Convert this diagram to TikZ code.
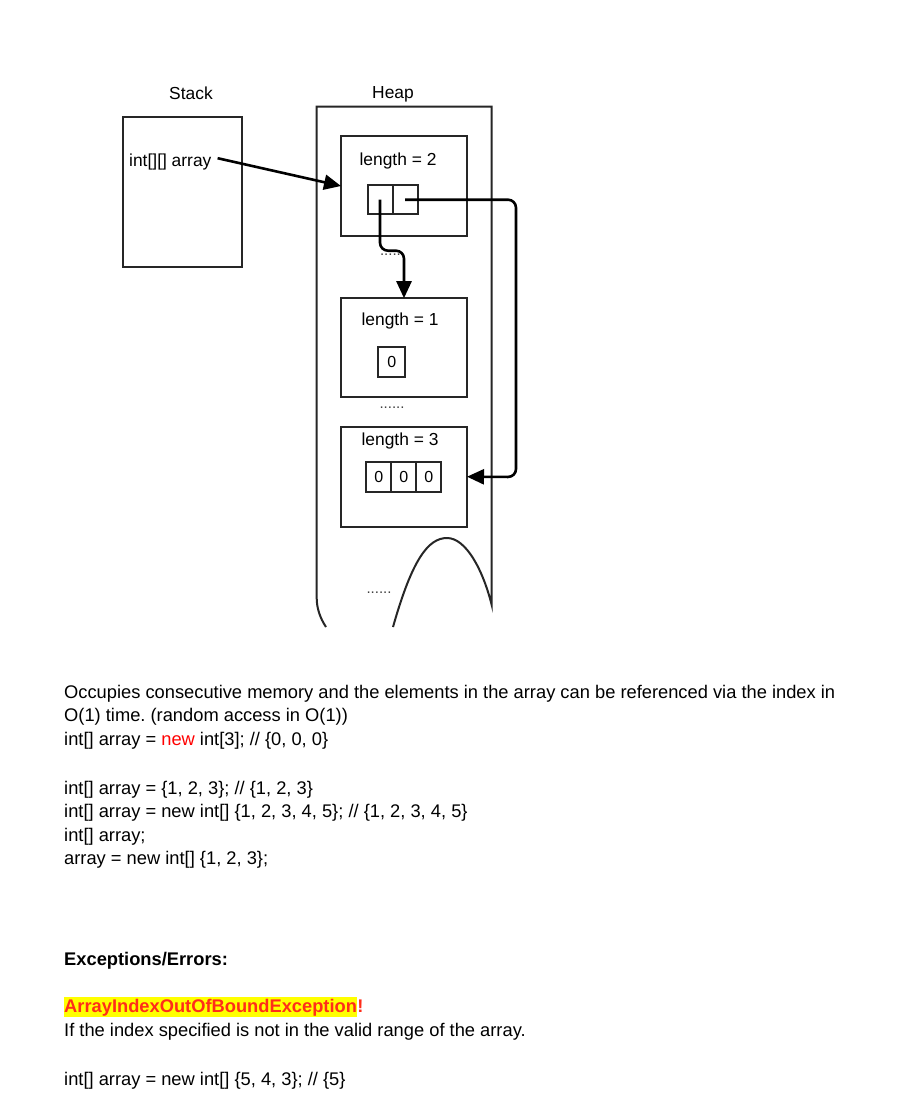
\documentclass[tikz,border=0pt]{standalone}
\usepackage{fontspec}
\setmainfont{Liberation Sans}
\usetikzlibrary{positioning,arrows.meta}
\definecolor{newred}{HTML}{FF0000}
\definecolor{excred}{HTML}{FF2D1A}
\definecolor{hlyellow}{HTML}{FFFF00}
\frenchspacing

\begin{document}
\begin{tikzpicture}[x=1pt,y=-1pt,
		memblock/.style={draw=black!85,line width=2pt,inner sep=0pt,outer sep=0pt},
		cellbox/.style={draw=black!85,line width=2pt,inner sep=0pt,outer sep=0pt,minimum width=25pt,minimum height=29.5pt,font=\fontsize{16}{18}\selectfont},
		lbl/.style={inner sep=0pt,font=\fontsize{17.4}{20}\selectfont},
		gapdots/.style={anchor=base,inner sep=0pt,text=black!75,font=\fontsize{15}{16}\selectfont},
		ptr/.style={line width=2.6pt,-{Triangle[length=17pt,width=15pt]},rounded corners=8pt},
		bodytext/.style={anchor=base west,inner sep=0pt,font=\fontsize{18.3}{22}\selectfont}]
	\fill[white] (0,0) rectangle (906,1113);
	\useasboundingbox (0,0) rectangle (906,1113);

	% stack side
	\node[lbl,anchor=base]									(stacklbl)	at (191,100)		{Stack};
	\node[memblock,minimum width=119pt,minimum height=150pt]	(stack)		at (182.2,191.7)	{};
	\node[lbl,anchor=base west]								(var)		at (129,166.7)		{int[][] array};

	% heap side
	\node[lbl,anchor=base]									(heaplbl)	at (393,98.3)		{Heap};
	\draw[memblock] (393,627) .. controls (412,560) and (428,538) .. (447,538)
		.. controls (466,538) and (483,570) .. (491.7,605) -- (491.7,106.7)
		-- (316.7,106.7) -- (316.7,598) .. controls (316.7,608) and (320,618) .. (326,627);

	\node[memblock,minimum width=126pt,minimum height=100pt]	(box1)		at (404,186)		{};
	\node[lbl,anchor=base]									(len1)		at (398,165)		{length = 2};
	\node[cellbox]											(c1)		at (380,199.7)		{};
	\node[cellbox,right=0pt of c1]							(c2)					{};

	\node[memblock,minimum width=126pt,minimum height=99pt]	(box2)		at (404,347.7)		{};
	\node[lbl,anchor=base]									(len2)		at (400,325)		{length = 1};
	\node[cellbox,minimum width=26.7pt,minimum height=30pt]	(e1)		at (391.7,361.7)	{0};

	\node[memblock,minimum width=126pt,minimum height=100pt]	(box3)		at (404,476.7)		{};
	\node[lbl,anchor=base]									(len3)		at (400,445)		{length = 3};
	\node[cellbox]											(d1)		at (378.7,477)		{0};
	\node[cellbox,right=0pt of d1]							(d2)					{0};
	\node[cellbox,right=0pt of d2]							(d3)					{0};

	\node[gapdots]											(gap1)		at (392.5,255)		{......};
	\node[gapdots]											(gap2)		at (392,408)		{......};
	\node[gapdots]											(gap3)		at (379,593)		{......};

	\coordinate												(turn)		at (516,477);

	\draw[ptr] ([xshift=6pt,yshift=4pt]var.east) -- (box1.west);
	\draw[ptr] (c1.center) -- ++(0,51) -| (box2.north);
	\draw[ptr] (c2.center) -| (turn) -- (box3.east);

	% notes
	\node[bodytext]	(l1)	at (64,698.3)	{Occupies consecutive memory and the elements in the array can be referenced via the index in};
	\node[bodytext]	(l2)	at (64,721.7)	{O(1) time. (random access in O(1))};
	\node[bodytext]	(l3)	at (64,745.7)	{int[] array = \textcolor{newred}{new} int[3]; // \{0, 0, 0\}};
	\node[bodytext]	(l4)	at (64,794)		{int[] array = \{1, 2, 3\}; // \{1, 2, 3\}};
	\node[bodytext]	(l5)	at (64,817)		{int[] array = new int[] \{1, 2, 3, 4, 5\}; // \{1, 2, 3, 4, 5\}};
	\node[bodytext]	(l6)	at (64,841)		{int[] array;};
	\node[bodytext]	(l7)	at (64,864)		{array = new int[] \{1, 2, 3\};};
	\node[bodytext]	(exc)	at (64,965)		{\bfseries Exceptions/Errors:};
	\node[bodytext,fill=hlyellow,text=excred,text height=16pt,text depth=4.6pt]
					(hl)	at (64,1012.7)	{\bfseries ArrayIndexOutOfBoundException};
	\node[bodytext,text=excred]	(bang)	at (hl.base east)	{\bfseries !};
	\node[bodytext]	(l8)	at (64,1036.7)	{If the index specified is not in the valid range of the array.};
	\node[bodytext]	(l9)	at (64,1085)	{int[] array = new int[] \{5, 4, 3\}; // \{5\}};
\end{tikzpicture}
\end{document}
